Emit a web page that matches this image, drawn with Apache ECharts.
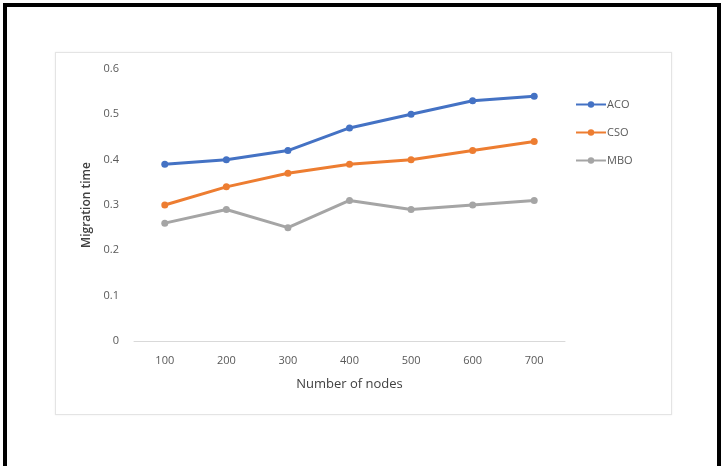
<!DOCTYPE html>
<html>
<head>
<meta charset="utf-8">
<script src="https://cdn.jsdelivr.net/npm/echarts@6/dist/echarts.min.js"></script>
<style>
  html, body { margin: 0; padding: 0; background: #fff; }
  #frame { position: absolute; left: 3px; top: 3px; width: 710px; height: 463px;
           border-top: 4px solid #000; border-left: 4px solid #000; border-right: 4px solid #000; }
  #box { position: absolute; left: 55px; top: 52px; width: 615px; height: 361px;
         border: 1px solid #e4e4e4; box-shadow: 0 0 2px #eee; }
  #chart { position: absolute; left: 0; top: 0; width: 722px; height: 466px; filter: blur(0.5px); }
</style>
</head>
<body>
<div id="frame"></div>
<div id="box"></div>
<div id="chart"></div>
<script>
const categories = ['100', '200', '300', '400', '500', '600', '700'];
const acoValues = [0.39, 0.40, 0.42, 0.47, 0.50, 0.53, 0.54];
const csoValues = [0.30, 0.34, 0.37, 0.39, 0.40, 0.42, 0.44];
const mboValues = [0.26, 0.29, 0.25, 0.31, 0.29, 0.30, 0.31];
const seriesNames = ['ACO', 'CSO', 'MBO'];
const colors = ['#4472C4', '#ED7D31', '#A5A5A5'];

const chart = echarts.init(document.getElementById('chart'), null, { renderer: 'canvas' });
const mk = (name, data, color) => ({
  name, type: 'line', data,
  symbol: 'circle', symbolSize: 7,
  lineStyle: { width: 3, color },
  itemStyle: { color },
  emphasis: { disabled: true }
});
chart.setOption({
  animation: false,
  textStyle: { fontFamily: 'Open Sans, Noto Sans, sans-serif' },
  grid: { left: 134, right: 157, top: 69, bottom: 125 },
  legend: {
    orient: 'vertical', left: 570, top: 94, itemGap: 17,
    itemWidth: 30, itemHeight: 8,
    data: seriesNames,
    textStyle: { color: '#595959', fontSize: 11, padding: [0, 0, 0, -4] }
  },
  xAxis: {
    type: 'category', data: categories, boundaryGap: true,
    name: 'Number of nodes', nameLocation: 'middle', nameGap: 37,
    nameTextStyle: { color: '#404040', fontSize: 13 },
    axisLine: { lineStyle: { color: '#d9d9d9', width: 1 } },
    axisTick: { show: false },
    axisLabel: { color: '#595959', fontSize: 11, margin: 14 }
  },
  yAxis: {
    type: 'value', min: 0, max: 0.6, interval: 0.1,
    name: 'Migration time', nameLocation: 'middle', nameGap: 39,
    nameTextStyle: { color: '#404040', fontSize: 12, fontWeight: 600 },
    axisLine: { show: false }, axisTick: { show: false },
    splitLine: { show: false },
    axisLabel: { color: '#595959', fontSize: 11, margin: 15,
      formatter: v => (Math.round(v * 10) / 10).toString() }
  },
  series: [
    mk('ACO', acoValues, colors[0]),
    mk('CSO', csoValues, colors[1]),
    mk('MBO', mboValues, colors[2])
  ]
});
</script>
</body>
</html>
